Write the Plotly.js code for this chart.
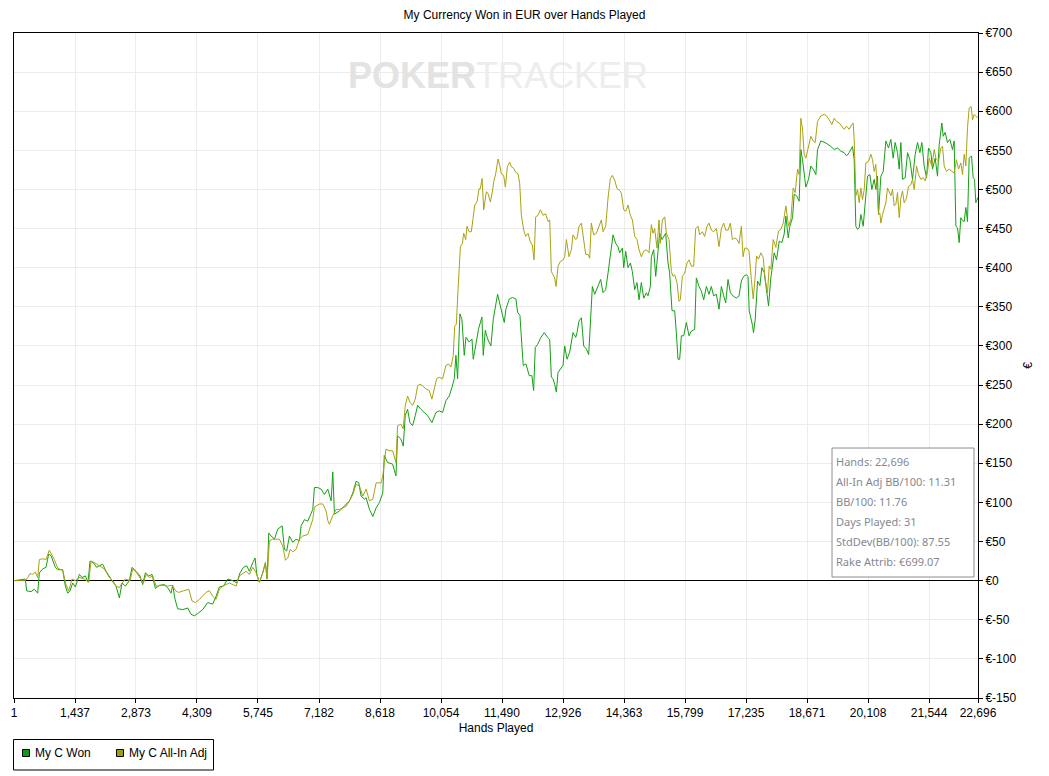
<!DOCTYPE html>
<html>
<head>
<meta charset="utf-8">
<script src="https://cdn.plot.ly/plotly-3.0.1.min.js"></script>
<style>html,body{margin:0;padding:0;background:#fff;}#chart{width:1049px;height:776px;}</style>
</head>
<body>
<div id="chart"></div>
<script>
// ---- data ----
const wonHands = [1,268,299,401,480,558,598,676,755,817,872,912,974,1029,1147,1210,1265,1320,1383,1445,1540,1603,1681,1744,1791,1869,1948,2011,2089,2168,2230,2309,2403,2482,2544,2623,2717,2780,2874,2968,3031,3094,3172,3251,3329,3424,3541,3620,3698,3738,3793,3855,3973,4091,4169,4248,4326,4444,4562,4680,4758,4837,4931,5033,5151,5245,5323,5402,5480,5543,5622,5677,5716,5779,5857,5920,5960,5999,6054,6133,6211,6313,6368,6422,6485,6564,6642,6721,6760,6839,6917,7035,7074,7153,7231,7310,7388,7467,7506,7545,7663,7820,7898,7977,8055,8118,8173,8251,8291,8369,8448,8526,8605,8683,
8718,8796,8914,8993,9032,9110,9165,9212,9267,9322,9385,9448,9503,9581,9660,9738,9840,9935,10013,10091,10170,10248,10311,10366,10405,10444,10499,10546,10601,10641,10719,10782,10813,10876,10939,11017,11049,11096,11151,11229,11284,11386,11465,11543,11582,11661,11739,11818,11857,11912,11959,11990,12053,12092,12131,12194,12234,12273,12328,12406,12485,12563,
12613,12652,12691,12730,12769,12809,12864,12926,12966,13021,13083,13162,13225,13256,13303,13358,13413,13476,13531,13570,13617,13672,13750,13813,13868,13931,13986,14041,14104,14166,14221,14260,14323,14355,14402,14457,14512,14559,14614,14668,14716,14770,14826,14888,14927,14982,15006,15061,15108,15163,15202,15257,15296,15343,15398,15437,15492,15555,15594,15634,15673,15712,15767,15830,15893,15947,16026,16065,16128,16183,16238,16301,16363,16418,16473,16536,16599,16654,16709,16756,16811,16866,16928,17007,17070,17125,17180,17242,17282,
17309,17388,17411,17451,17506,17561,17608,17663,17702,17765,17819,17898,17953,18016,18078,18133,18173,18228,18267,18330,18369,18424,18486,18526,18565,18604,18643,18706,18761,18816,18879,18918,18996,19098,19153,19232,19310,19389,19467,19546,19601,19663,19742,19781,19820,19860,19899,19938,19993,20040,20095,20150,20197,20252,20291,20330,20354,20409,20464,20527,20589,20644,20699,20746,20801,20841,20880,20919,20982,21037,21092,21154,21217,21272,21327,21374,21429,21484,21531,21586,21625,21688,21743,21782,21845,21876,21923,21978,22033,22096,22135,22175,22214,22253,22292,22332,22371,22410,22449,22488,22543,22582,22614,22645,22696];
const wonEur = [0,2,-13,-14,-11,-16,10,15,17,34,32,25,17,14,14,-7,-16,-13,-3,-8,8,4,6,-2,25,23,17,19,21,12,6,0,-7,-22,-3,-7,0,17,12,6,-5,10,6,8,-10,-6,-5,-9,-16,-6,-24,-36,-37,-35,-43,-45,-42,-37,-28,-30,-20,-8,-7,2,0,-3,10,17,19,12,23,29,8,-2,10,23,2,61,57,53,66,70,40,38,57,49,53,51,70,78,76,91,119,119,117,110,117,102,139,85,89,98,102,112,127,125,108,104,106,91,82,93,100,112,
160,151,149,134,185,181,172,211,219,202,198,211,224,219,215,211,202,215,217,215,230,236,247,258,288,258,341,334,288,311,305,309,283,302,322,337,288,320,309,300,334,366,349,330,347,360,362,360,343,339,300,275,277,268,262,262,243,298,302,311,317,311,
308,260,258,251,241,266,270,275,300,283,292,317,311,317,332,336,300,296,289,332,376,366,378,385,368,372,393,417,442,431,427,419,425,400,421,400,406,395,372,381,359,381,361,368,364,376,414,423,389,421,444,436,440,444,406,393,345,345,317,283,283,313,313,330,313,319,321,387,376,370,359,376,366,376,364,366,347,376,364,355,385,368,364,361,364,383,389,391,389,
345,326,317,334,383,377,400,394,379,351,387,419,410,434,432,443,466,438,453,464,494,492,485,551,538,517,503,513,530,526,519,551,562,560,558,555,551,553,549,547,543,547,555,538,453,449,451,468,453,483,517,519,500,513,500,517,468,517,523,562,553,564,540,560,547,526,560,513,515,547,538,513,545,560,547,560,530,515,553,547,526,540,517,557,585,568,573,560,564,551,562,453,451,432,464,460,459,477,459,540,543,515,513,483,490];

const adjHands = [1,268,323,378,441,503,558,598,676,755,833,896,951,1029,1147,1226,1288,1367,1445,1540,1658,1760,1814,1893,2011,2128,2246,2324,2403,2482,2544,2623,2733,2796,2890,2992,3047,3110,3188,3267,3345,3502,3620,3698,3754,3801,3879,3989,4115,4193,4271,4365,4444,4522,4601,4680,4758,4837,4915,5072,5229,5308,5465,5543,5622,5700,5779,5857,5920,5960,6014,6093,6172,6250,6329,6392,6447,6501,6564,6642,6721,6799,6917,7035,7074,7192,7270,7349,7388,7427,7506,7584,7663,7820,7898,7977,8055,8134,8212,8291,8369,8448,8526,8644,8683,
8757,8836,8914,8993,9032,9110,9165,9212,9267,9322,9385,9448,9503,9558,9621,9699,9777,9840,9895,9950,10013,10091,10170,10233,10288,10342,
10376,10415,10455,10510,10557,10588,10635,10666,10714,10768,10808,10847,10902,10949,10980,11020,11059,11122,11161,11216,11263,11294,11341,11396,11435,11475,11530,11569,11616,11671,11710,11765,11812,11867,11906,11946,12001,12048,12103,12157,12204,12244,12283,12338,12393,12456,12518,12573,12613,12652,12691,12730,12762,12809,12864,12926,12966,13005,13068,13123,13162,13225,13256,13303,13358,13413,13460,13515,13554,13593,13648,13711,13774,13829,13868,13931,13986,14041,14088,14143,14198,14260,14300,14355,14402,14457,14512,14559,14614,14668,14716,14770,14826,14888,14951,15006,15045,15084,15139,15186,15218,15265,15320,15359,15422,15477,15516,15555,15610,15657,15688,15736,15791,15845,15893,15947,16002,16049,16104,16144,16206,16261,16316,16363,16418,16473,16536,16599,16654,16709,16756,16811,16866,16913,16968,17023,17070,17125,17164,17203,17258,17305,17360,
17404,17451,17482,17529,17584,17639,17686,17741,17780,17819,17874,17937,18000,18055,18110,18173,18235,18290,18345,18392,18447,18486,18526,18565,18604,18643,18706,18761,18816,18863,18918,18996,19075,19130,19193,19256,19310,19365,19428,19491,19546,19601,19663,19726,19758,19781,19820,19860,19899,19938,19977,20017,20056,20119,20174,20213,20252,20291,20354,20385,20409,20448,20487,20527,20566,20605,20644,20684,20723,20762,20801,20841,20880,20919,20958,21013,21060,21115,21154,21194,21249,21296,21351,21406,21453,21508,21547,21610,21665,21704,21767,21821,21861,21900,21955,22018,22080,22135,22190,22237,22292,22332,22371,22410,22449,22488,22536,22567,22606,22696];
const adjEur = [0,0,4,9,8,11,4,27,28,27,39,33,27,16,13,-5,-13,2,0,4,2,-2,25,23,19,15,4,0,-7,-9,-3,2,0,15,10,2,-3,8,4,6,-7,-6,-7,-6,-8,-13,-15,-13,-11,-26,-28,-24,-20,-15,-13,-20,-24,-11,-7,-3,-7,6,12,8,17,10,-2,10,23,2,51,53,53,53,44,26,29,40,37,40,53,57,59,78,94,98,98,89,77,72,83,91,91,95,102,110,123,121,108,117,102,104,125,125,134,
168,166,166,151,198,200,194,224,236,228,224,232,249,251,249,245,243,232,245,258,260,258,275,277,273,288,
325,328,372,427,431,444,436,453,446,446,463,480,484,501,501,514,474,497,495,484,497,510,520,539,531,520,518,503,529,535,529,527,522,520,508,467,448,440,444,433,429,410,465,467,474,467,469,459,461,395,391,387,376,402,408,410,414,436,414,423,442,436,438,453,457,438,417,417,412,457,442,444,453,461,446,453,489,514,518,512,501,499,495,474,472,480,467,461,440,436,423,414,421,423,419,455,444,450,425,461,431,461,465,444,436,395,389,391,381,357,359,389,393,406,410,402,402,450,453,442,446,440,453,457,448,446,450,427,450,457,448,448,457,436,438,436,431,453,414,425,425,421,385,
360,389,415,411,419,413,385,368,402,398,436,426,447,449,457,479,453,462,502,496,526,519,591,577,545,540,555,568,562,560,587,594,596,594,589,583,591,587,585,581,577,581,577,583,585,564,492,500,483,502,487,500,534,536,545,538,523,532,468,470,457,468,474,483,502,496,492,500,479,481,496,464,489,498,483,489,504,506,513,500,530,519,513,515,511,523,540,530,551,540,536,553,555,530,523,526,523,521,538,526,534,519,545,530,579,604,606,589,596,591];

const xTickVals = [1,1437,2873,4309,5745,7182,8618,10054,11490,12926,14363,15799,17235,18671,20108,21544,22696];
const xTickText = ['1','1,437','2,873','4,309','5,745','7,182','8,618','10,054','11,490','12,926','14,363','15,799','17,235','18,671','20,108','21,544','22,696'];
const yTickVals = [-150,-100,-50,0,50,100,150,200,250,300,350,400,450,500,550,600,650,700];
const yTickText = ['€-150','€-100','€-50','€0','€50','€100','€150','€200','€250','€300','€350','€400','€450','€500','€550','€600','€650','€700'];

const seriesNames = ['My C Won', 'My C All-In Adj'];
const seriesColors = ['#14a014', '#aaa212'];
const legendFill = ['#109c10', '#a09e10'];
const statLines = ['Hands: 22,696','All-In Adj BB/100: 11.31','BB/100: 11.76','Days Played: 31','StdDev(BB/100): 87.55','Rake Attrib: €699.07'];

// ---- layout geometry (pixels) ----
const W = 1049, H = 776;
const L = 14, R = 978, T = 33, B = 698;
const px = v => (v - L) / (R - L);
const py = v => (B - v) / (B - T);
const FONT = 'Liberation Sans, Arial, sans-serif';

const traces = [
  {x: wonHands, y: wonEur, name: seriesNames[0], type: 'scatter', mode: 'lines',
   line: {color: seriesColors[0], width: 1}, showlegend: false, hoverinfo: 'skip'},
  {x: adjHands, y: adjEur, name: seriesNames[1], type: 'scatter', mode: 'lines',
   line: {color: seriesColors[1], width: 1}, showlegend: false, hoverinfo: 'skip'}
];

const shapes = [
  // stats box
  {type: 'rect', xref: 'paper', yref: 'paper', x0: px(832), x1: px(974), y0: py(577), y1: py(448),
   line: {color: '#8c8c8c', width: 1}, fillcolor: '#ffffff', layer: 'above'},
  // legend box
  {type: 'rect', xref: 'paper', yref: 'paper', x0: px(13.5), x1: px(213.5), y0: py(770), y1: py(739.5),
   line: {color: '#000', width: 1}, fillcolor: '#ffffff'},
  {type: 'rect', xref: 'paper', yref: 'paper', x0: px(22.5), x1: px(29.5), y0: py(756.5), y1: py(749.5),
   line: {color: '#000', width: 1}, fillcolor: legendFill[0]},
  {type: 'rect', xref: 'paper', yref: 'paper', x0: px(116.5), x1: px(123.5), y0: py(756.5), y1: py(749.5),
   line: {color: '#000', width: 1}, fillcolor: legendFill[1]}
];

const annotations = [
  {xref: 'paper', yref: 'paper', x: px(498), y: py(76), xanchor: 'center', yanchor: 'middle', showarrow: false,
   text: '<b>POKER</b><span style="color:#ededed">TRACKER</span>',
   font: {family: FONT, size: 36, color: '#e3e3e3'}},
  {xref: 'paper', yref: 'paper', x: px(33), y: py(753), xanchor: 'left', yanchor: 'middle', showarrow: false,
   text: seriesNames[0], font: {family: FONT, size: 12, color: '#000'}},
  {xref: 'paper', yref: 'paper', x: px(127), y: py(753), xanchor: 'left', yanchor: 'middle', showarrow: false,
   text: seriesNames[1], font: {family: FONT, size: 12, color: '#000'}}
];
statLines.forEach((s, i) => {
  annotations.push({xref: 'paper', yref: 'paper', x: px(834), y: py(461 + 20 * i), xanchor: 'left', yanchor: 'middle',
    showarrow: false, text: s, font: {family: 'Noto Sans, Open Sans, sans-serif', size: 11, color: '#858891'}});
});

const layout = {
  width: W, height: H,
  paper_bgcolor: '#ffffff', plot_bgcolor: '#ffffff',
  margin: {l: L, r: W - R, t: T, b: H - B, pad: 0},
  showlegend: false,
  font: {family: FONT, size: 12, color: '#000'},
  title: {text: 'My Currency Won in EUR over Hands Played', font: {family: FONT, size: 12, color: '#000'},
          x: 0.5, xref: 'container', xanchor: 'center', y: 1 - 15 / H, yref: 'container', yanchor: 'middle'},
  xaxis: {range: [1, 22696], tickmode: 'array', tickvals: xTickVals, ticktext: xTickText,
          showgrid: true, gridcolor: '#ececec', gridwidth: 1, zeroline: false,
          showline: true, linecolor: '#000', linewidth: 1, mirror: true,
          ticks: 'outside', ticklen: 4, tickcolor: '#000', tickfont: {family: FONT, size: 12, color: '#000'},
          title: {text: 'Hands Played', font: {family: FONT, size: 12, color: '#000'}, standoff: 4}},
  yaxis: {range: [-150, 700], side: 'right', tickmode: 'array', tickvals: yTickVals, ticktext: yTickText,
          showgrid: true, gridcolor: '#ececec', gridwidth: 1,
          zeroline: true, zerolinecolor: '#000', zerolinewidth: 1,
          showline: true, linecolor: '#000', linewidth: 1, mirror: true,
          ticks: 'outside', ticklen: 4, tickcolor: '#000', tickfont: {family: FONT, size: 12, color: '#000'},
          title: {text: '€', font: {family: FONT, size: 12, color: '#000'}, standoff: 8}},
  shapes: shapes,
  annotations: annotations
};

Plotly.newPlot('chart', traces, layout, {staticPlot: true, displayModeBar: false});
</script>
</body>
</html>
